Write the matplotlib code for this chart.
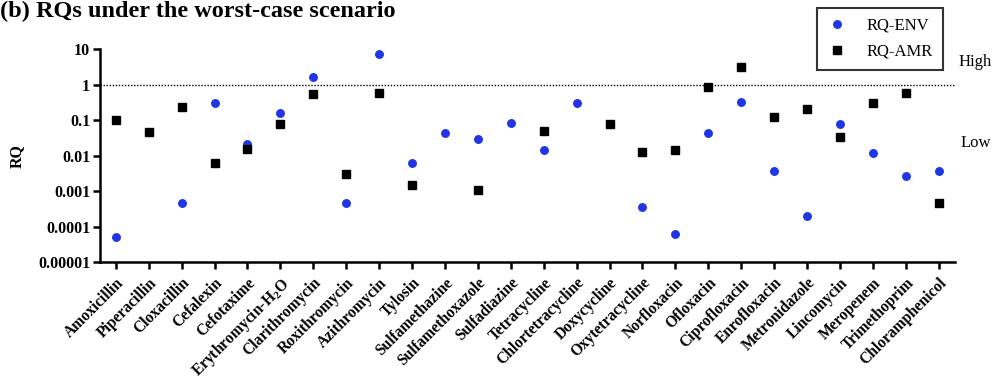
import matplotlib
matplotlib.use("Agg")
import matplotlib.pyplot as plt
import numpy as np

categories = ["Amoxicillin", "Piperacillin", "Cloxacillin", "Cefalexin", "Cefotaxime",
              "Erythromycin-H$_\\mathbf{2}$O", "Clarithromycin", "Roxithromycin", "Azithromycin",
              "Tylosin", "Sulfamethazine", "Sulfamethoxazole", "Sulfadiazine", "Tetracycline",
              "Chlortetracycline", "Doxycycline", "Oxytetracycline", "Norfloxacin", "Ofloxacin",
              "Ciprofloxacin", "Enrofloxacin", "Metronidazole", "Lincomycin", "Meropenem",
              "Trimethoprim", "Chloramphenicol"]

rq_env = [5e-5, np.nan, 4.7e-4, 0.31, 0.021, 0.157, 1.69, 4.6e-4, 7.2,
          0.0062, 0.044, 0.0297, 0.086, 0.0149, 0.307, np.nan, 3.5e-4, 6.2e-5, 0.044,
          0.33, 0.0038, 2.06e-4, 0.080, 0.0122, 0.00276, 0.0037]

rq_amr = [0.10, 0.048, 0.23, 0.0063, 0.0152, 0.079, 0.54, 0.0031, 0.58,
          0.00155, np.nan, 0.0011, np.nan, 0.049, np.nan, 0.079, 0.013, 0.0150, 0.885,
          3.17, 0.124, 0.208, 0.033, 0.30, 0.57, 4.7e-4]

yticks = [1e1, 1e0, 1e-1, 1e-2, 1e-3, 1e-4, 1e-5]
ytick_labels = ["10", "1", "0.1", "0.01", "0.001", "0.0001", "0.00001"]

plt.rcParams['font.family'] = ['Liberation Serif', 'DejaVu Serif']
plt.rcParams['mathtext.fontset'] = 'custom'
plt.rcParams['mathtext.rm'] = 'Liberation Serif:bold'
plt.rcParams['mathtext.bf'] = 'Liberation Serif:bold'

W, H = 996, 380
fig = plt.figure(figsize=(W / 100, H / 100), dpi=100)
ax = fig.add_axes([100 / W, 1 - 262.3 / H, (955 - 100) / W, (262.3 - 49.3) / H])

x = np.arange(len(categories))
blue = '#1f35e6'
ax.plot(x, rq_env, 'o', color=blue, markersize=5.4, linestyle='none', label='RQ-ENV')
ax.plot(x, rq_amr, 's', color='black', markersize=5.8, linestyle='none', label='RQ-AMR')

ax.set_yscale('log')
ax.set_ylim(1e-5, 10)
ax.set_xlim(-0.48, len(categories) - 1 + 0.495)
ax.set_yticks(yticks)
ax.set_yticklabels(ytick_labels, fontweight='bold', fontsize=11.5)
ax.yaxis.set_minor_locator(matplotlib.ticker.NullLocator())
ax.set_xticks(x)
ax.set_xticklabels(categories, rotation=45, ha='right', va='top', rotation_mode='anchor',
                   fontweight='bold', fontsize=11.2)

ax.axhline(1, color='black', linestyle=(0, (1, 1.2)), linewidth=1.0)

for s in ['top', 'right']:
    ax.spines[s].set_visible(False)
for s in ['left', 'bottom']:
    ax.spines[s].set_linewidth(1.8)
ax.tick_params(axis='both', which='major', length=5, width=1.8, direction='out', pad=2)
ax.tick_params(axis='x', pad=4)

ax.set_ylabel('RQ', fontweight='bold', fontsize=11.5)
ax.yaxis.set_label_coords(-0.088, 0.5)

fig.text(0.0, 1 - 17 / H, '(b) RQs under the worst-case scenario', fontweight='bold',
         fontsize=17.5, ha='left', va='baseline')

fig.text(959 / W, 1 - 62 / H, 'High', fontsize=12, ha='left', va='center')
fig.text(961 / W, 1 - 143 / H, 'Low', fontsize=12, ha='left', va='center')

leg = fig.legend(loc='upper left', bbox_to_anchor=(817 / W, 1 - 8 / H), borderaxespad=0,
                 fontsize=12, frameon=True, fancybox=False, edgecolor='black',
                 handlelength=1.2, handletextpad=1.2, borderpad=0.6, labelspacing=0.6)
leg.get_frame().set_linewidth(1.5)

fig.savefig('out.png', dpi=100)
